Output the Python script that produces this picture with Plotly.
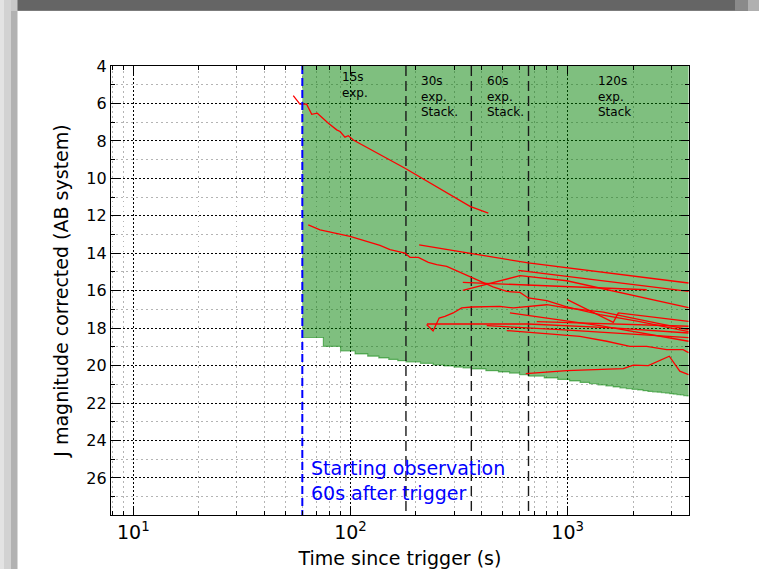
import math
import plotly.graph_objects as go

# ---------------- data ----------------
limit_t = [60, 75, 90, 105, 120, 135, 150, 165, 180, 210, 240, 270, 300, 330, 360,
           420, 480, 540, 600, 660, 780, 900, 1020, 1140, 1260, 1380, 1500, 1620,
           1740, 1860, 1980, 2100, 2220, 2340, 2460, 2580, 2700, 2820, 2940, 3060,
           3180, 3300, 3420, 3540]
limit_mag = [18.50, 18.97, 19.22, 19.38, 19.50, 19.59, 19.67, 19.74, 19.80, 19.88,
             19.96, 20.02, 20.08, 20.13, 20.18, 20.27, 20.34, 20.40, 20.48, 20.56,
             20.66, 20.74, 20.82, 20.90, 20.97, 21.03, 21.09, 21.14, 21.19, 21.23,
             21.27, 21.30, 21.34, 21.38, 21.40, 21.42, 21.45, 21.47, 21.50, 21.52,
             21.55, 21.57, 21.60, 21.62]
obs_end = 3600
mag_bright = 4
mag_faint = 28

trigger_start = 60
stack_boundaries = [180, 360, 660]

exposure_labels = ["15s<br>exp.", "30s<br>exp.<br>Stack.", "60s<br>exp.<br>Stack.",
                   "120s<br>exp.<br>Stack"]
exposure_label_t = [89, 207, 416, 1345]

x_tick_vals = [10, 100, 1000]
x_tick_text = ["10<sup>1</sup>", "10<sup>2</sup>", "10<sup>3</sup>"]
x_minor_vals = [8, 9, 20, 30, 40, 50, 60, 70, 80, 90, 200, 300, 400, 500, 600, 700,
                800, 900, 2000, 3000]
y_tick_vals = [4, 6, 8, 10, 12, 14, 16, 18, 20, 22, 24, 26]
y_minor_vals = [5, 7, 9, 11, 13, 15, 17, 19, 21, 23, 25, 27]

lc01_t = [54.5, 58.5, 62.8, 66.3, 70.3, 79.1, 86.4, 89.5, 94.3, 97.7, 103.0, 178.2, 355, 431]
lc01_mag = [5.58, 6.04, 6.04, 6.58, 6.52, 7.06, 7.41, 7.50, 7.80, 7.72, 7.95, 9.46, 11.50, 11.86]

lc02_t = [63.9, 72.4, 99.5, 136.7, 152, 178.2, 187.9, 205.3, 228.2, 249.4, 277.3, 313.6,
          355, 395, 453, 524, 603, 658, 801, 990, 1160, 1407, 2149, 3600]
lc02_mag = [12.48, 12.75, 13.10, 13.58, 13.81, 13.99, 14.22, 14.22, 14.49, 14.61, 14.70,
            14.97, 15.24, 15.50, 15.80, 16.04, 16.09, 16.39, 16.53, 16.87, 17.05, 17.28,
            17.65, 18.19]

lc03_t = [207, 658, 3600]
lc03_mag = [13.55, 14.52, 15.59]

lc04_t = [592, 3600]
lc04_mag = [14.91, 16.04]

lc05_t = [996, 1621, 1710, 3600]
lc05_mag = [16.48, 17.69, 17.19, 17.64]

lc06_t = [329, 603, 990, 3600]
lc06_mag = [15.98, 15.20, 15.47, 16.91]

lc07_t = [329, 2311]
lc07_mag = [15.56, 15.95]

lc08_t = [224, 240, 256, 272, 297, 325, 361, 424, 488, 562, 658, 801, 990, 1459, 2149, 3600]
lc08_mag = [17.81, 18.15, 17.46, 17.37, 17.19, 16.92, 16.87, 16.84, 16.84, 16.92, 16.84,
            16.75, 16.92, 17.14, 17.55, 18.08]

lc09_t = [225, 656, 1616, 3600]
lc09_mag = [17.78, 17.78, 17.99, 18.26]

lc10_t = [424, 921, 3600]
lc10_mag = [17.87, 18.08, 18.51]

lc11_t = [542, 1407, 3600]
lc11_mag = [17.19, 17.87, 18.70]

lc12_t = [524, 745, 990, 1138, 1512, 1933, 2311, 2856, 3398, 3600]
lc12_mag = [18.13, 18.26, 18.35, 18.44, 18.70, 18.97, 18.97, 19.15, 19.15, 19.31]

lc13_t = [641, 990, 1803, 2005, 2350, 2655, 2936, 3281, 3600]
lc13_mag = [20.43, 20.27, 20.16, 19.98, 20.00, 19.73, 19.50, 20.30, 20.48]

lc14_t = [720, 3600]
lc14_mag = [17.65, 17.90]

curves = [(lc01_t, lc01_mag), (lc02_t, lc02_mag), (lc03_t, lc03_mag), (lc04_t, lc04_mag),
          (lc05_t, lc05_mag), (lc06_t, lc06_mag), (lc07_t, lc07_mag), (lc08_t, lc08_mag),
          (lc09_t, lc09_mag), (lc10_t, lc10_mag), (lc11_t, lc11_mag), (lc12_t, lc12_mag),
          (lc13_t, lc13_mag), (lc14_t, lc14_mag)]

# ---------------- layout constants ----------------
W, H = 759, 569
ML, MR, MT, MB = 111, 70, 66, 54
PW, PH = W - ML - MR, H - MT - MB
FONT = "DejaVu Sans"


def px_x(px):
    return (px - ML) / PW


def px_y(py):
    return (H - MB - py) / PH


fig = go.Figure()

# green detectable region
fill_x = limit_t + [obs_end, obs_end, limit_t[0]]
fill_y = limit_mag + [limit_mag[-1], mag_bright, mag_bright]
fig.add_trace(go.Scatter(x=fill_x, y=fill_y, mode="lines", fill="toself",
                         fillcolor="rgba(0,128,0,0.5)",
                         line=dict(width=0, shape="hv", color="rgba(0,128,0,0.5)"),
                         hoverinfo="skip", showlegend=False))
fig.add_trace(go.Scatter(x=limit_t + [obs_end], y=limit_mag + [limit_mag[-1]], mode="lines",
                         line=dict(width=1.2, shape="hv", color="rgba(0,128,0,0.5)"),
                         hoverinfo="skip", showlegend=False))

# stacking boundaries
for v in stack_boundaries:
    fig.add_trace(go.Scatter(x=[v, v], y=[mag_bright, mag_faint], mode="lines",
                             line=dict(color="#1a1a1a", width=1.4, dash="10px,5px"),
                             hoverinfo="skip", showlegend=False))

# red light curves
for t, m in curves:
    fig.add_trace(go.Scatter(x=t, y=m, mode="lines",
                             line=dict(color="#ff0000", width=1.3),
                             showlegend=False))

# start of observation
fig.add_trace(go.Scatter(x=[trigger_start, trigger_start], y=[mag_bright, mag_faint],
                         mode="lines", line=dict(color="#0000ff", width=2, dash="8px,4px"),
                         hoverinfo="skip", showlegend=False))

annotations = []
for lab, tx in zip(exposure_labels, exposure_label_t):
    annotations.append(dict(x=math.log10(tx), y=4.09 if lab.startswith("15s") else 4.30,
                            xref="x", yref="y", text=lab, showarrow=False,
                            xanchor="left", yanchor="top", align="left",
                            font=dict(family=FONT, size=12, color="black")))
annotations.append(dict(x=math.log10(64.4), y=24.79, xref="x", yref="y",
                        text="Starting observation<br>60s after trigger", showarrow=False,
                        xanchor="left", yanchor="top", align="left",
                        font=dict(family=FONT, size=19, color="#0000ff")))

# slide frame (grey borders at the top and left)
shapes = [
    dict(type="rect", xref="paper", yref="paper", x0=px_x(0), x1=px_x(W), y0=px_y(11), y1=px_y(0),
         fillcolor="#656565", line=dict(width=0), layer="above"),
    dict(type="rect", xref="paper", yref="paper", x0=px_x(0), x1=px_x(W), y0=px_y(11), y1=px_y(10),
         fillcolor="#7c7c7c", line=dict(width=0), layer="above"),
    dict(type="rect", xref="paper", yref="paper", x0=px_x(735), x1=px_x(748), y0=px_y(11), y1=px_y(0),
         fillcolor="#8a8a8a", line=dict(width=0), layer="above"),
    dict(type="rect", xref="paper", yref="paper", x0=px_x(748), x1=px_x(W), y0=px_y(11), y1=px_y(0),
         fillcolor="#b0b0b0", line=dict(width=0), layer="above"),
    dict(type="rect", xref="paper", yref="paper", x0=px_x(0), x1=px_x(4), y0=px_y(H), y1=px_y(0),
         fillcolor="#e3e3e3", line=dict(width=0), layer="above"),
    dict(type="rect", xref="paper", yref="paper", x0=px_x(4), x1=px_x(11), y0=px_y(H), y1=px_y(0),
         fillcolor="#d2d2d2", line=dict(width=0), layer="above"),
    dict(type="rect", xref="paper", yref="paper", x0=px_x(11), x1=px_x(17.5), y0=px_y(H), y1=px_y(11),
         fillcolor="#b2b2b2", line=dict(width=0), layer="above"),
    dict(type="rect", xref="paper", yref="paper", x0=px_x(11), x1=px_x(17.5), y0=px_y(11), y1=px_y(0),
         fillcolor="#c8c8c8", line=dict(width=0), layer="above"),
]

fig.update_layout(
    width=W, height=H,
    margin=dict(l=ML, r=MR, t=MT, b=MB, autoexpand=False),
    paper_bgcolor="white", plot_bgcolor="white",
    font=dict(family=FONT, size=16, color="black"),
    showlegend=False,
    annotations=annotations,
    shapes=shapes,
    xaxis=dict(
        type="log", range=[0.8973, 3.5585],
        tickmode="array", tickvals=x_tick_vals, ticktext=x_tick_text,
        ticks="inside", ticklen=8, tickwidth=1, tickcolor="black",
        showline=True, linecolor="black", linewidth=1.2, mirror="allticks",
        showgrid=True, gridcolor="black", gridwidth=1.2, griddash="1.5px,2.5px",
        zeroline=False,
        tickfont=dict(family=FONT, size=19),
        title=dict(text="Time since trigger (s)", font=dict(family=FONT, size=19), standoff=10),
        minor=dict(tickmode="array", tickvals=x_minor_vals, ticks="inside", ticklen=4,
                   tickcolor="black", showgrid=True, gridcolor="#b4b4b4", gridwidth=1,
                   griddash="1.5px,3.5px"),
    ),
    yaxis=dict(
        range=[27.98, mag_bright], tickmode="array", tickvals=y_tick_vals,
        ticks="inside", ticklen=8, tickwidth=1, tickcolor="black",
        showline=True, linecolor="black", linewidth=1.2, mirror="allticks",
        showgrid=True, gridcolor="black", gridwidth=1.2, griddash="1.5px,2.5px",
        zeroline=False,
        tickfont=dict(family=FONT, size=16),
        title=dict(text="J magnitude corrected (AB system)", font=dict(family=FONT, size=19),
                   standoff=12),
        minor=dict(tickmode="array", tickvals=y_minor_vals, ticks="inside", ticklen=4,
                   tickcolor="black", showgrid=True, gridcolor="#b4b4b4", gridwidth=1,
                   griddash="1.5px,3.5px"),
    ),
)

fig.write_html("out.html", config={"displayModeBar": False},
               post_script="document.body.style.margin='0px';")
